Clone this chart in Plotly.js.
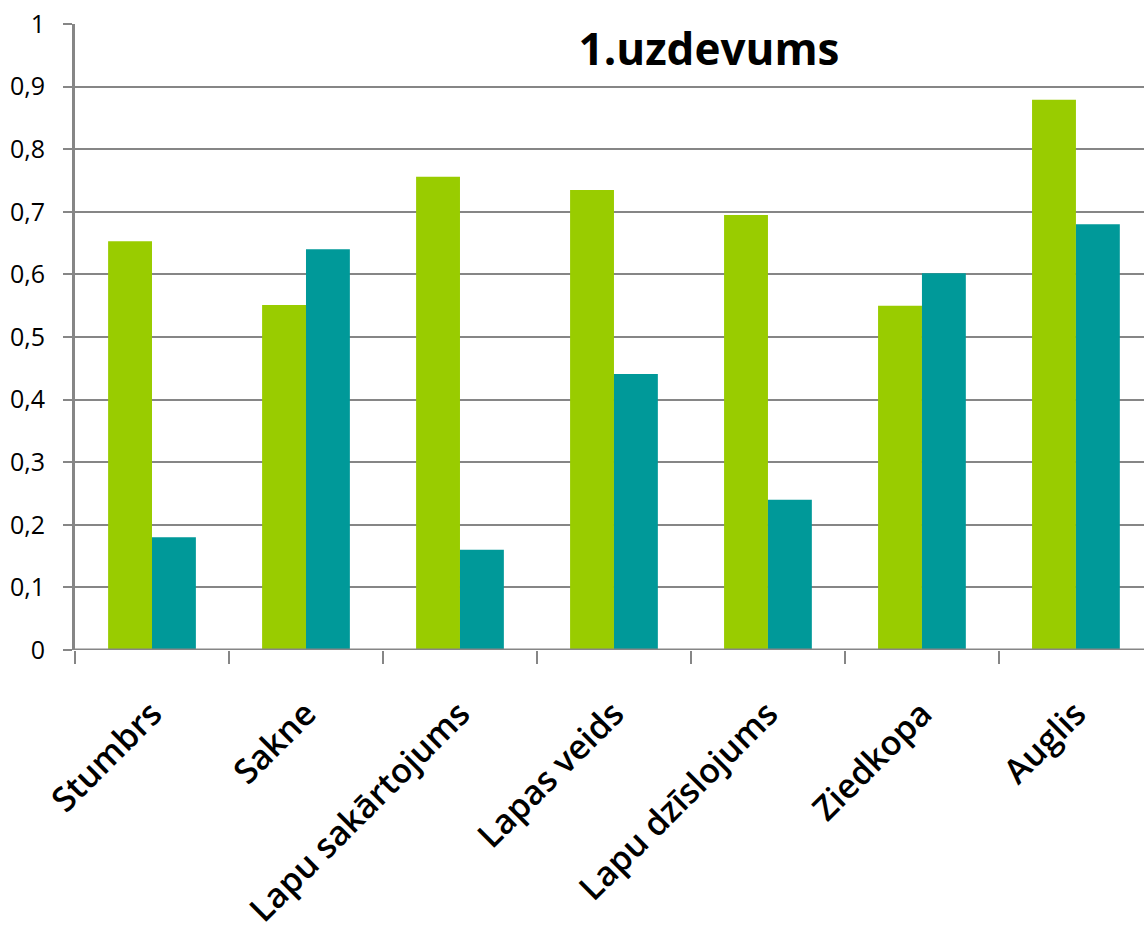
<!DOCTYPE html>
<html>
<head>
<meta charset="utf-8">
<script src="https://cdn.plot.ly/plotly-3.0.1.min.js"></script>
<style>
  html, body { margin: 0; padding: 0; background: #ffffff; }
  #chart { width: 1144px; height: 931px; }
</style>
</head>
<body>
<div id="chart"></div>
<script>
// Topic categories of the task
const categories = ["Stumbrs", "Sakne", "Lapu sakārtojums", "Lapas veids", "Lapu dzīslojums", "Ziedkopa", "Auglis"];

// Share of correct answers per topic, two groups
const seriesA = [0.653, 0.551, 0.756, 0.735, 0.695, 0.55, 0.879];
const seriesB = [0.18, 0.64, 0.16, 0.441, 0.24, 0.602, 0.68];

// Value axis ticks
const yTickVals = [0, 0.1, 0.2, 0.3, 0.4, 0.5, 0.6, 0.7, 0.8, 0.9, 1];

const FONT = "Open Sans, Lato, sans-serif";
const AXIS_GREY = "#868686";

const traces = [
  {
    type: "bar",
    name: "A",
    x: categories,
    y: seriesA,
    marker: { color: "#99CC00", line: { width: 0 } },
    hoverinfo: "x+y"
  },
  {
    type: "bar",
    name: "B",
    x: categories,
    y: seriesB,
    marker: { color: "#009999", line: { width: 0 } },
    hoverinfo: "x+y"
  }
];

const layout = {
  width: 1144,
  height: 931,
  paper_bgcolor: "#ffffff",
  plot_bgcolor: "#ffffff",
  margin: { l: 75, r: 0, t: 24, b: 281, pad: 0 },
  showlegend: false,
  barmode: "group",
  bargap: 0.43,
  bargroupgap: 0,
  separators: ", ",
  font: { family: FONT, color: "#000000" },
  title: {
    text: "<b>1.uzdevums</b>",
    font: { family: FONT, size: 44, color: "#000000" },
    xref: "container",
    yref: "container",
    x: 709 / 1144,
    xanchor: "center",
    y: 1 - 50 / 931,
    yanchor: "middle"
  },
  xaxis: {
    type: "category",
    range: [-0.5, 6.442],
    fixedrange: true,
    showgrid: false,
    zeroline: false,
    showline: false,
    ticks: "outside",
    tickson: "boundaries",
    ticklen: 13,
    tickwidth: 2,
    tickcolor: AXIS_GREY,
    tickangle: -45,
    ticklabelstandoff: 36,
    tickfont: { family: FONT, size: 34, color: "#000000", weight: 600 }
  },
  yaxis: {
    range: [0, 1],
    fixedrange: true,
    tickmode: "array",
    tickvals: yTickVals,
    tickformat: ".1~f",
    showgrid: true,
    gridcolor: AXIS_GREY,
    gridwidth: 2,
    zeroline: false,
    showline: true,
    linecolor: AXIS_GREY,
    linewidth: 3,
    ticks: "outside",
    ticklen: 9,
    tickwidth: 2,
    tickcolor: AXIS_GREY,
    ticklabelstandoff: 13,
    tickfont: { family: FONT, size: 25, color: "#000000" }
  },
  shapes: [
    {
      // baseline of the bars
      type: "line",
      xref: "paper",
      yref: "y",
      x0: 0,
      x1: 1,
      y0: 0,
      y1: 0,
      line: { color: AXIS_GREY, width: 3 }
    }
  ]
};

Plotly.newPlot("chart", traces, layout, { displayModeBar: false, staticPlot: true });
</script>
</body>
</html>
